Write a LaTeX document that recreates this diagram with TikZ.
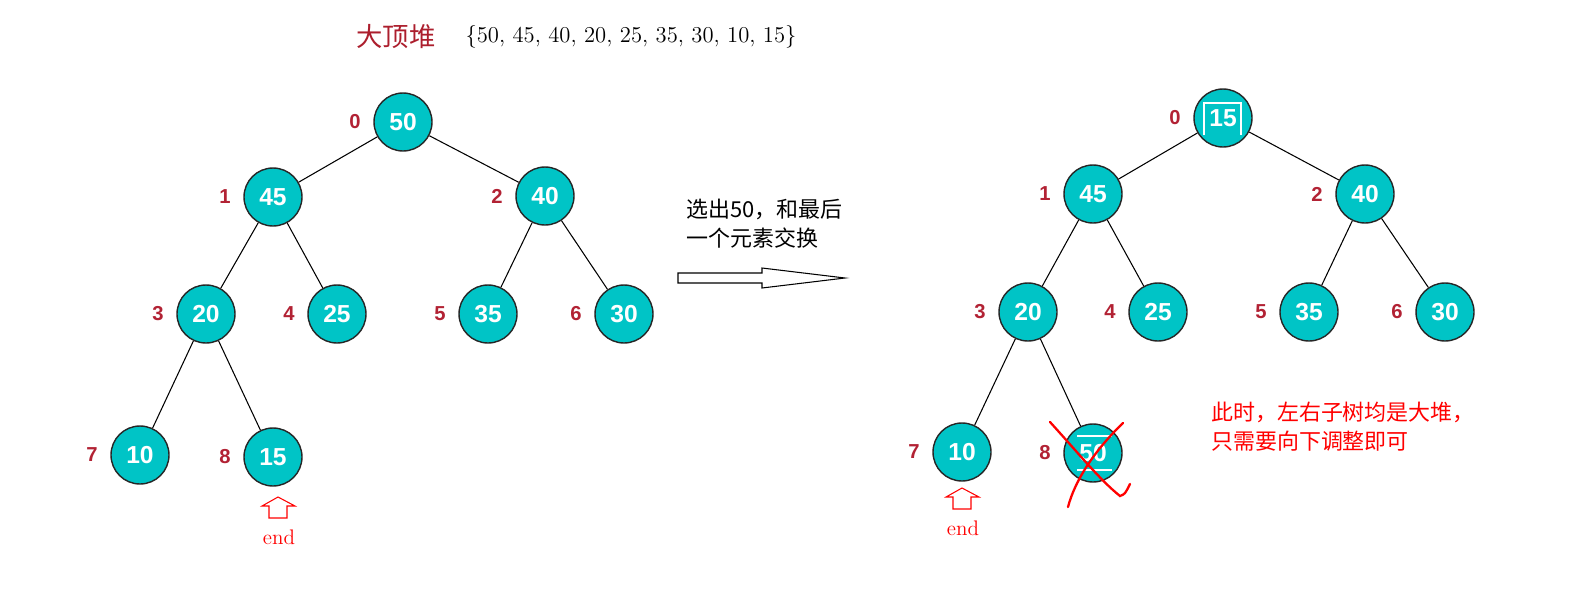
\documentclass[tikz,border=0pt]{standalone}
\usepackage{fontspec}
\setsansfont{Liberation Sans}
\newfontfamily\cjk{Noto Sans CJK SC}
\usetikzlibrary{positioning, calc}
\definecolor{heapfill}{RGB}{0,196,198}
\definecolor{idxred}{RGB}{178,34,52}
\definecolor{titlered}{RGB}{172,30,45}
\tikzset{
    heapnode/.style={circle, draw=black!85, fill=heapfill, line width=0.8pt, minimum size=1.16cm, inner sep=0pt, text=white, font=\sffamily\bfseries\fontsize{14}{16}\selectfont},
    idx/.style={text=idxred, font=\sffamily\bfseries\fontsize{11.5}{13}\selectfont, label distance=0.13cm},
    edge/.style={line width=0.6pt},
    note/.style={align=left, anchor=west, font=\cjk\fontsize{12.5}{16.5}\selectfont},
    hollow/.style={draw=red, line width=0.6pt},
    strike/.style={draw=white, line width=1.2pt},
}

\begin{document}
\begin{tikzpicture}[x=0.02cm, y=-0.02cm]
    \path[use as bounding box] (0,0) rectangle (1579,609);
    % title
    \node[text=titlered, font=\cjk\fontsize{15}{18}\selectfont] (title) at (396,37) {大顶堆};
    \node[font=\fontsize{12.9}{15}\selectfont] (set) at (631,37) {\{50, 45, 40, 20, 25, 35, 30, 10, 15\}};
    % heap before
    \foreach \n/\v/\i/\x/\y in {a0/50/0/403/122, a1/45/1/273/197, a2/40/2/545/196, a3/20/3/206/314, a4/25/4/337/314, a5/35/5/488/314, a6/30/6/624/314, a7/10/7/140/455, a8/15/8/273/457}
        \node[heapnode, label={[idx]left:\i}] (\n) at (\x,\y) {\v};
    % heap after swap
    \foreach \n/\v/\i/\x/\y in {b0/15/0/1223/118, b1/45/1/1093/194, b2/40/2/1365/194, b3/20/3/1028/312, b4/25/4/1158/312, b5/35/5/1309/312, b6/30/6/1445/312, b7/10/7/962/452, b8/50/8/1093/453}
        \node[heapnode, label={[idx]left:\i}] (\n) at (\x,\y) {\v};
    \foreach \t in {a,b}
        \foreach \p/\c in {0/1, 0/2, 1/3, 1/4, 2/5, 2/6, 3/7, 3/8}
            \draw[edge] (\t\p) -- (\t\c);
    % marks on swapped nodes
    \draw[strike] ($(b0)+(-19,17)$) -- ++(0,-32) -- ++(37,0) -- ++(0,32);
    \draw[strike] ($(b8)+(-16,-17)$) -- ++(35,0);
    \draw[strike] ($(b8)+(-16,17)$) -- ++(35,0);
    \draw[red, line width=1.3pt, line cap=round] (1050,422) .. controls (1080,455) and (1100,480) .. (1120,496) .. controls (1125,494) .. (1130,484);
    \draw[red, line width=1.3pt, line cap=round] (1123,423) .. controls (1095,450) and (1075,480) .. (1068,507);
    % swap arrow and text
    \node[note] (swap) at (680,224) {选出50，和最后\\一个元素交换};
    \draw[line width=0.6pt] (678,273) -- (762,273) -- (762,268) -- (845,278) -- (762,288) -- (762,283) -- (678,283) -- cycle;
    % end pointers
    \coordinate (endL) at (278,497);
    \coordinate (endR) at (962,488);
    \foreach \e in {endL, endR} {
        \draw[hollow] (\e) -- ++(17,9) -- ++(-8,0) -- ++(0,12) -- ++(-18,0) -- ++(0,-12) -- ++(-7,0) -- cycle;
        \node[text=red, font=\fontsize{12}{14}\selectfont] at ($(\e)+(1,40)$) {end};
    }
    \node[note, text=red] (remark) at (1205,427) {此时，左右子树均是大堆，\\只需要向下调整即可};
\end{tikzpicture}
\end{document}
